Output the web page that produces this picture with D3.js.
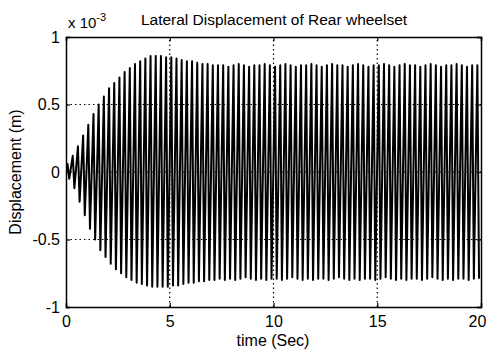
<!DOCTYPE html>
<html lang="en">
<head>
    <meta charset="UTF-8">
    <title>Lateral Displacement of Rear wheelset</title>
    <style>
        body { margin: 0; background: #fff; }
        text { font-family: "Liberation Sans", Arial, sans-serif; fill: #000; }
    </style>
</head>
<body>
</body>
<script src="https://cdn.jsdelivr.net/npm/d3@7"></script>
<script>
    // values in units of 1e-3 m, one peak and one trough per oscillation cycle
    var cycleSec = 0.25;
    var upperPeaks = [
        0.06, 0.12, 0.19, 0.27, 0.35, 0.43, 0.50, 0.56, 0.62, 0.66,
        0.70, 0.74, 0.77, 0.80, 0.82, 0.84, 0.86, 0.86, 0.86, 0.85,
        0.85, 0.84, 0.83, 0.82, 0.82, 0.81, 0.80, 0.80, 0.79, 0.79,
        0.79, 0.78, 0.79, 0.80, 0.79, 0.78, 0.79, 0.79, 0.80, 0.79,
        0.78, 0.79, 0.80, 0.79, 0.78, 0.79, 0.79, 0.80, 0.79, 0.78,
        0.79, 0.80, 0.79, 0.79, 0.78, 0.79, 0.80, 0.79, 0.78, 0.79,
        0.79, 0.80, 0.79, 0.78, 0.79, 0.80, 0.79, 0.79, 0.78, 0.79,
        0.80, 0.79, 0.78, 0.79, 0.79, 0.80, 0.79, 0.78, 0.79, 0.79
    ];
    var lowerPeaks = [
        -0.05, -0.12, -0.22, -0.32, -0.42, -0.50, -0.58, -0.63, -0.68, -0.72,
        -0.75, -0.78, -0.80, -0.82, -0.83, -0.84, -0.85, -0.85, -0.85, -0.85,
        -0.84, -0.84, -0.83, -0.82, -0.82, -0.81, -0.81, -0.80, -0.80, -0.79,
        -0.80, -0.79, -0.80, -0.79, -0.78, -0.79, -0.80, -0.79, -0.80, -0.79,
        -0.79, -0.80, -0.79, -0.78, -0.79, -0.80, -0.79, -0.80, -0.79, -0.79,
        -0.80, -0.79, -0.78, -0.79, -0.80, -0.79, -0.80, -0.79, -0.79, -0.80,
        -0.79, -0.78, -0.79, -0.80, -0.79, -0.80, -0.79, -0.79, -0.80, -0.79,
        -0.78, -0.79, -0.80, -0.79, -0.80, -0.79, -0.79, -0.80, -0.79, -0.79
    ];
    var xTicks = [0, 5, 10, 15, 20];
    var yTicks = [-1, -0.5, 0, 0.5, 1];

    var W = 486, H = 354;
    var m = {left: 66, right: 5, top: 37, bottom: 47};

    var svg = d3.select("body").append("svg")
            .attr("width", W)
            .attr("height", H);

    var x = d3.scaleLinear().domain([0, 20]).range([m.left, W - m.right]);
    var y = d3.scaleLinear().domain([-1, 1]).range([H - m.bottom, m.top]);

    //dotted grid
    svg.append("g").selectAll("line.gx")
            .data(xTicks.slice(1, -1)).enter().append("line")
            .attr("x1", x).attr("x2", x)
            .attr("y1", y(-1)).attr("y2", y(1))
            .style("stroke", "#000").style("stroke-width", 1.2)
            .style("stroke-dasharray", "1.5,3");
    svg.append("g").selectAll("line.gy")
            .data(yTicks.slice(1, -1)).enter().append("line")
            .attr("y1", y).attr("y2", y)
            .attr("x1", x(0)).attr("x2", x(20))
            .style("stroke", "#000").style("stroke-width", 1.2)
            .style("stroke-dasharray", "1.5,3");

    //signal: up to each peak, down to each trough
    var pts = [[0, 0]];
    upperPeaks.forEach(function(v, k) {
        pts.push([k * cycleSec + 0.30 * cycleSec, v]);
        pts.push([k * cycleSec + 0.62 * cycleSec, lowerPeaks[k]]);
    });

    svg.append("clipPath").attr("id", "clip")
            .append("rect")
            .attr("x", x(0)).attr("y", y(1))
            .attr("width", x(20) - x(0)).attr("height", y(-1) - y(1));

    svg.append("path")
            .datum(pts)
            .attr("clip-path", "url(#clip)")
            .attr("d", d3.line().x(function(d) { return x(d[0]); }).y(function(d) { return y(d[1]); }))
            .style("fill", "none")
            .style("stroke", "#000")
            .style("stroke-width", 2)
            .style("stroke-linejoin", "round");

    //axes with inward ticks, box round the plot
    var fmt = function(d) { return String(d); };
    svg.append("g")
            .attr("transform", "translate(0," + y(-1) + ")")
            .call(d3.axisBottom(x).tickValues(xTicks).tickSize(-4).tickPadding(9).tickFormat(fmt))
            .selectAll(".tick text")
            .attr("dx", function(d) { return d === 20 ? -4 : 0; });
    svg.append("g")
            .attr("transform", "translate(0," + y(1) + ")")
            .call(d3.axisTop(x).tickValues(xTicks).tickSize(-4).tickFormat(""));
    svg.append("g")
            .attr("transform", "translate(" + x(0) + ",0)")
            .call(d3.axisLeft(y).tickValues(yTicks).tickSize(-4).tickPadding(6).tickFormat(fmt));
    svg.append("g")
            .attr("transform", "translate(" + x(20) + ",0)")
            .call(d3.axisRight(y).tickValues(yTicks).tickSize(-4).tickFormat(""));

    svg.selectAll(".domain").style("stroke", "#000").style("stroke-width", 1.5);
    svg.selectAll(".tick line").style("stroke", "#000").style("stroke-width", 1.2);
    svg.selectAll(".tick text").style("font-size", "16px").style("font-family", "Liberation Sans, Arial, sans-serif");

    //labels
    svg.append("text")
            .attr("x", 274).attr("y", 25)
            .attr("text-anchor", "middle")
            .style("font-size", "15.5px")
            .text("Lateral Displacement of Rear wheelset");

    var ex = svg.append("text").attr("x", 68).attr("y", 28).style("font-size", "15px");
    ex.append("tspan").text("x 10");
    ex.append("tspan").attr("dy", -7).style("font-size", "11px").text("-3");

    svg.append("text")
            .attr("x", 273).attr("y", 346)
            .attr("text-anchor", "middle")
            .style("font-size", "16px")
            .text("time (Sec)");

    svg.append("text")
            .attr("transform", "translate(21," + y(0) + ") rotate(-90)")
            .attr("text-anchor", "middle")
            .style("font-size", "16px")
            .text("Displacement (m)");
</script>
</html>
